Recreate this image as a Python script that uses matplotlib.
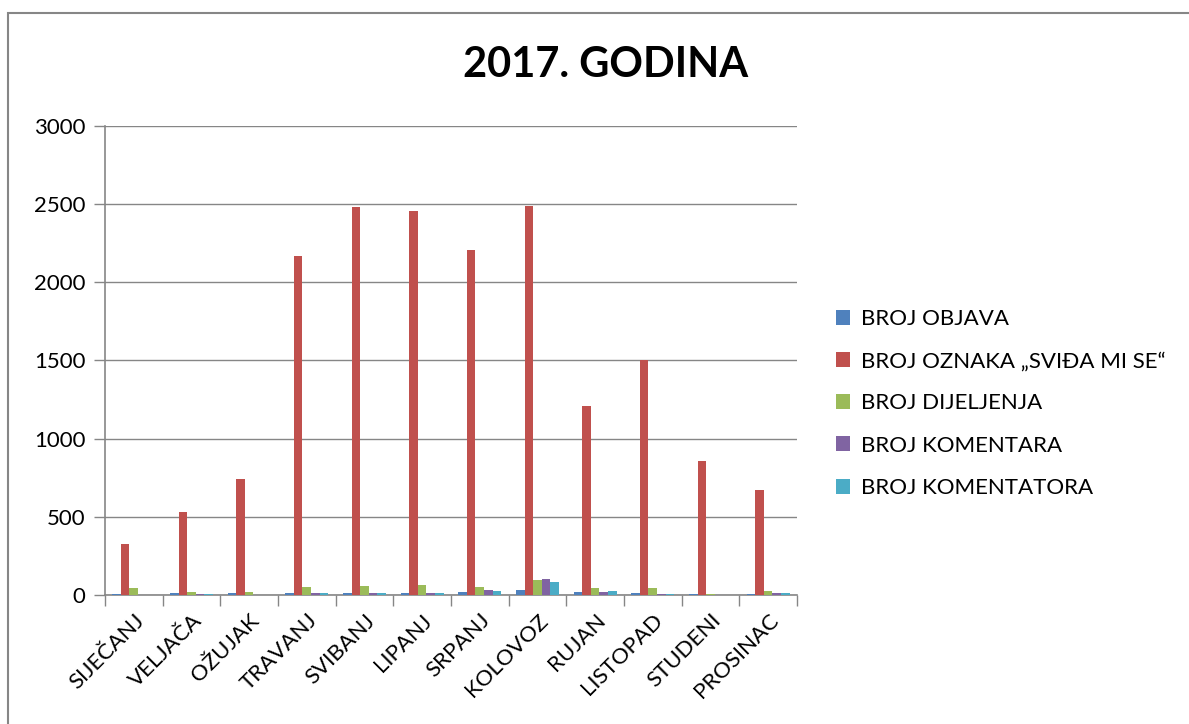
import numpy as np
import matplotlib.pyplot as plt
from matplotlib.patches import Rectangle

plt.rcParams['font.family'] = ['Lato', 'DejaVu Sans']

# Months (Croatian) and the five series
months = ['SIJEČANJ', 'VELJAČA', 'OŽUJAK', 'TRAVANJ', 'SVIBANJ', 'LIPANJ',
          'SRPANJ', 'KOLOVOZ', 'RUJAN', 'LISTOPAD', 'STUDENI', 'PROSINAC']
broj_objava = [5, 10, 15, 10, 10, 15, 20, 32, 20, 10, 5, 5]
broj_oznaka = [325, 530, 740, 2170, 2480, 2455, 2205, 2490, 1210, 1505, 855, 670]
broj_dijeljenja = [45, 20, 20, 50, 58, 62, 53, 94, 45, 45, 8, 25]
broj_komentara = [2, 8, 3, 15, 13, 15, 32, 100, 22, 5, 3, 10]
broj_komentatora = [2, 5, 2, 10, 12, 15, 25, 83, 24, 5, 3, 10]

series = [
    ('BROJ OBJAVA', broj_objava, '#4F81BD'),
    ('BROJ OZNAKA „SVIĐA MI SE“', broj_oznaka, '#C0504D'),
    ('BROJ DIJELJENJA', broj_dijeljenja, '#9BBB59'),
    ('BROJ KOMENTARA', broj_komentara, '#8064A2'),
    ('BROJ KOMENTATORA', broj_komentatora, '#4BACC6'),
]

fig = plt.figure(figsize=(11.89, 7.24), dpi=100)
ax = fig.add_axes([0.0883, 0.1782, 0.582, 0.6478])

# outer chart border (only top and left visible in the reference)
fig.patches.append(Rectangle((8 / 1189, -0.1), 1.2, 1.1 - 13 / 724,
                             transform=fig.transFigure, fill=False,
                             edgecolor='#868686', linewidth=1.5))

x = np.arange(len(months))
width = 0.15
for i, (name, vals, color) in enumerate(series):
    ax.bar(x + (i - 2) * width, vals, width, color=color, label=name, zorder=3)

gray = '#868686'
ax.set_xlim(-0.5, len(months) - 0.5)
ax.set_ylim(0, 3000)
ax.set_yticks(range(0, 3001, 500))
ax.yaxis.grid(True, color=gray, linewidth=1)
ax.set_axisbelow(True)

ax.set_xticks(x)
ax.set_xticklabels(months, rotation=45, ha='right', rotation_mode='anchor', fontsize=16)
ax.set_xticks(np.arange(-0.5, len(months)), minor=True)
ax.tick_params(axis='x', which='major', length=0, pad=11)
ax.tick_params(axis='x', which='minor', length=8, color=gray, width=1)
ax.tick_params(axis='y', length=8, color=gray, width=1, labelsize=16, pad=6)

for s in ['top', 'right']:
    ax.spines[s].set_visible(False)
for s in ['left', 'bottom']:
    ax.spines[s].set_color(gray)
    ax.spines[s].set_linewidth(1.2)

fig.text(0.509, 0.91, '2017. GODINA', ha='center', va='center',
         fontsize=30, fontweight='bold')

fig.legend(loc='center left', bbox_to_anchor=(0.703, 0.4427), frameon=False,
           fontsize=16, handlelength=0.65, handleheight=0.65, handletextpad=0.5,
           labelspacing=1.0, borderpad=0, borderaxespad=0)

fig.savefig('out.png', dpi=100)
